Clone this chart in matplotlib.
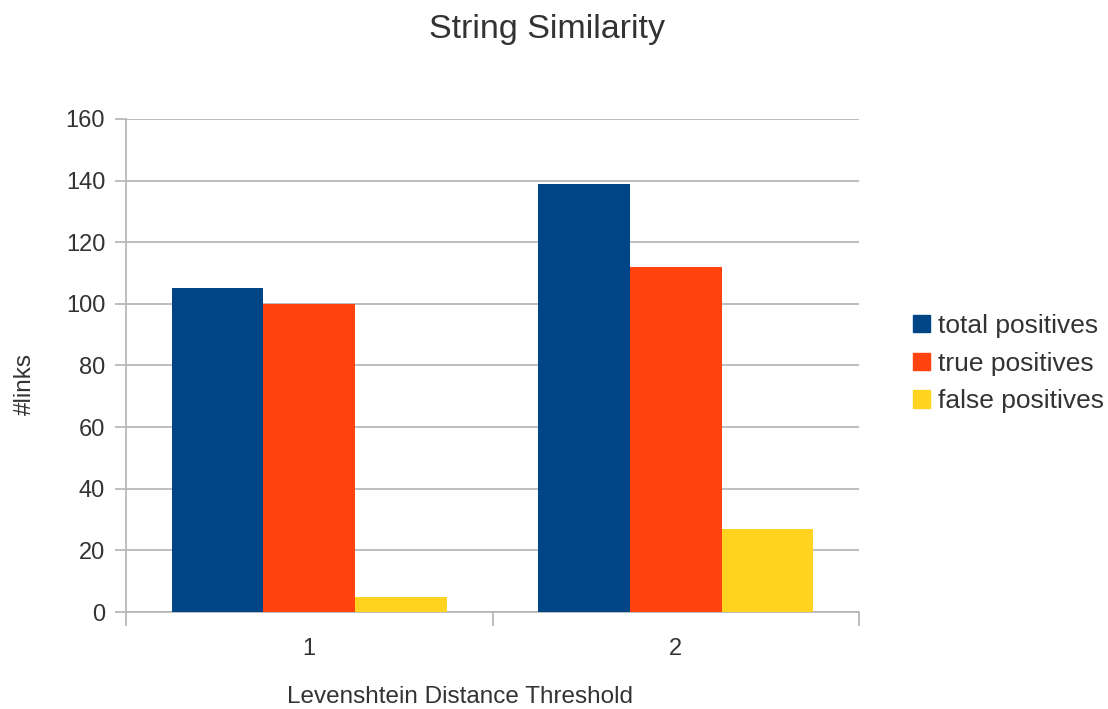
import numpy as np
import matplotlib.pyplot as plt
from matplotlib.patches import Patch

plt.rcParams['font.family'] = ['Liberation Sans', 'DejaVu Sans']

thresholds = ['1', '2']
series = ['total positives', 'true positives', 'false positives']
total_pos = [105, 139]
true_pos = [100, 112]
false_pos = [5, 27]
colors = ['#004586', '#ff420e', '#ffd320']

fig = plt.figure(figsize=(11.08, 7.09), dpi=100)
ax = fig.add_axes([0.1137, 0.1368, 0.6616, 0.6954])

x = np.arange(1, len(thresholds) + 1)
w = 0.25
for i, vals in enumerate([total_pos, true_pos, false_pos]):
    ax.bar(x + (i - 1) * w, vals, w, color=colors[i], zorder=3)

ax.set_xlim(0.5, 2.5)
ax.set_ylim(0, 160)
ax.set_yticks(range(0, 161, 20))
ax.set_xticks(x)
ax.set_xticklabels(thresholds)
ax.set_xticks([0.5, 1.5, 2.5], minor=True)
ax.tick_params(axis='x', which='major', length=0, labelsize=17, pad=19, colors='#333333')
ax.tick_params(axis='x', which='minor', length=10, color='#b3b3b3', width=1.2)
ax.tick_params(axis='y', length=8, color='#b3b3b3', width=1.2, labelsize=17, labelcolor='#333333', pad=7)
ax.grid(axis='y', color='#b3b3b3', linewidth=1.2, zorder=0)
for s in ['top', 'right']:
    ax.spines[s].set_visible(False)
for s in ['left', 'bottom']:
    ax.spines[s].set_color('#b3b3b3')
    ax.spines[s].set_linewidth(1.2)

fig.text(0.494, 0.959, 'String Similarity', ha='center', va='center', fontsize=24.5, color='#333333')
fig.text(0.415, 0.0169, 'Levenshtein Distance Threshold', ha='center', va='center', fontsize=17.5, color='#333333')
fig.text(0.022, 0.458, '#links', ha='center', va='center', rotation=90, fontsize=17.5, color='#333333')

handles = [Patch(color=c, label=s) for c, s in zip(colors, series)]
fig.legend(handles=handles, loc='center left', bbox_to_anchor=(0.8024, 0.487), frameon=False,
           fontsize=19, handlelength=0.64, handleheight=0.64, handletextpad=0.3,
           labelspacing=0.52, labelcolor='#333333')

fig.savefig('out.png', dpi=100)
